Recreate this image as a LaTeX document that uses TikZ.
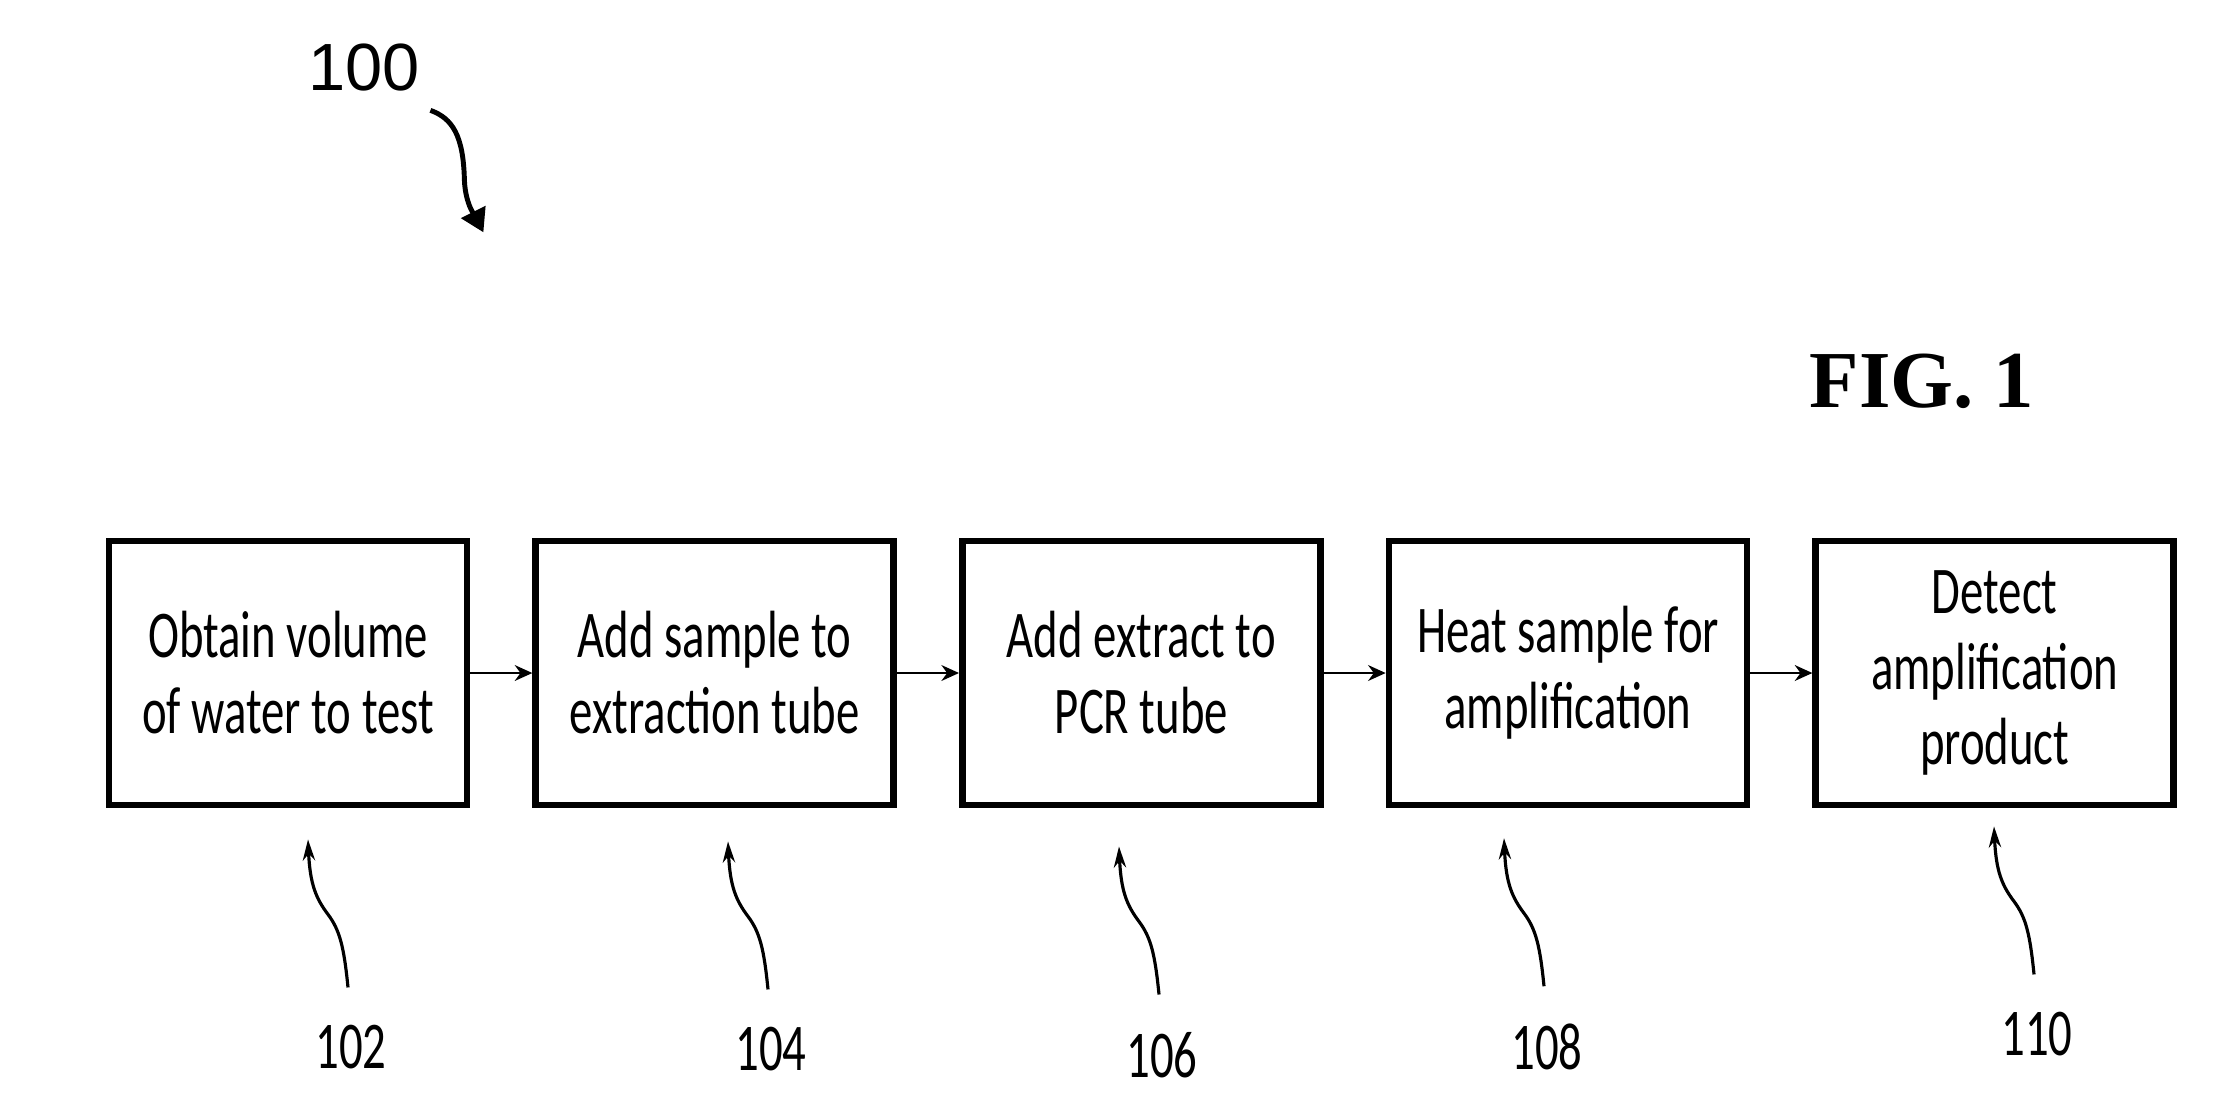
\documentclass[tikz,border=0pt]{standalone}
\usepackage{fontspec}
\setmainfont{Carlito}
\newfontfamily\stepfont[FakeStretch=0.7]{Carlito}
\newfontfamily\reffont{Liberation Sans}
\newfontfamily\figfont{Liberation Serif}
\usetikzlibrary{arrows.meta,positioning,calc}

\begin{document}
\begin{tikzpicture}[
x=0.1mm, y=-0.1mm,
font=\stepfont\fontsize{19}{21.6}\selectfont,
stepbox/.style={draw, line width=1.9pt, minimum width=35.8mm, minimum height=26.4mm, inner sep=0pt, align=center},
flow/.style={->, line width=0.7pt, >={Stealth[length=5pt,width=4.5pt]}},
leader/.style={->, line width=0.9pt, >={Stealth[length=6pt,width=3.5pt]}},
refarrow/.style={->, line width=1.4pt, >={Triangle[length=6.5pt,width=7.5pt]}},
node distance=6.2mm]
    \useasboundingbox (0,0) rectangle (2213,1110);

    % Reference numeral of the whole method
    \node[inner sep=0pt, font=\reffont\fontsize{19}{23}\selectfont] (l100) at (364,68) {100};
    \draw[refarrow] ($(l100.south east)+(10,18)$) .. controls +(22,8) and +(-1,-45) .. ++(34,70)
        .. controls +(1,25) and +(-7,-14) .. ++(19,52);

    \node[font=\figfont\bfseries\fontsize{23}{28}\selectfont] (fig) at (1922,381) {FIG. 1};

    % Steps
    \node[stepbox] (box1) at (288,673) {Obtain volume\\of water to test};
    \node[stepbox, right=of box1] (box2) {Add sample to\\extraction tube};
    \node[stepbox, right=of box2] (box3) {Add extract to\\PCR tube};
    \node[stepbox, right=of box3] (box4) {Heat sample for\\amplification};
    \node[stepbox, right=of box4] (box5) {Detect\\amplification\\product};

    \draw[flow] (box1) -- (box2);
    \draw[flow] (box2) -- (box3);
    \draw[flow] (box3) -- (box4);
    \draw[flow] (box4) -- (box5);

    % Step numerals
    \node[inner sep=0pt] (l102) at (351,1047) {102};
    \node[inner sep=0pt] (l104) at (771,1049) {104};
    \node[inner sep=0pt] (l106) at (1162,1055) {106};
    \node[inner sep=0pt] (l108) at (1547,1047) {108};
    \node[inner sep=0pt] (l110) at (2037,1034) {110};

    \draw[leader] ($(l102.north)+(-3,-37)$) .. controls +(-4,-40) and +(12,16) .. ++(-20,-73)
        .. controls +(-12,-16) and +(2,45) .. ++(-20,-75);
    \draw[leader] ($(l104.north)+(-3,-37)$) .. controls +(-4,-40) and +(12,16) .. ++(-20,-73)
        .. controls +(-12,-16) and +(2,45) .. ++(-20,-75);
    \draw[leader] ($(l106.north)+(-3,-37)$) .. controls +(-4,-40) and +(12,16) .. ++(-20,-73)
        .. controls +(-12,-16) and +(2,45) .. ++(-20,-75);
    \draw[leader] ($(l108.north)+(-3,-37)$) .. controls +(-4,-40) and +(12,16) .. ++(-20,-73)
        .. controls +(-12,-16) and +(2,45) .. ++(-20,-75);
    \draw[leader] ($(l110.north)+(-3,-37)$) .. controls +(-4,-40) and +(12,16) .. ++(-20,-73)
        .. controls +(-12,-16) and +(2,45) .. ++(-20,-75);

\end{tikzpicture}
\end{document}
